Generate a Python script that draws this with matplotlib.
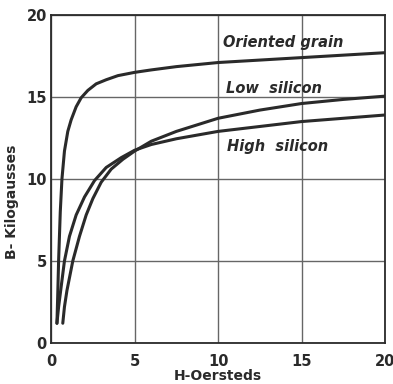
import matplotlib
matplotlib.use("Agg")
import matplotlib.pyplot as plt

# B-H magnetization curves
oriented_h = [0.35, 0.4, 0.45, 0.55, 0.65, 0.8, 1.0, 1.2, 1.5, 1.8, 2.2, 2.7, 3.3, 4.0, 5.0, 6.0, 7.5, 10.0, 12.5, 15.0, 17.5, 20.0]
oriented_b = [1.2, 3.0, 5.0, 8.0, 10.0, 11.7, 12.9, 13.6, 14.4, 14.95, 15.4, 15.8, 16.05, 16.3, 16.5, 16.65, 16.85, 17.1, 17.25, 17.4, 17.55, 17.7]

high_h = [0.35, 0.45, 0.55, 0.8, 1.1, 1.5, 2.0, 2.6, 3.3, 4.2, 5.0, 6.0, 7.5, 10.0, 12.5, 15.0, 17.5, 20.0]
high_b = [1.2, 2.2, 3.0, 5.0, 6.5, 7.8, 8.9, 9.9, 10.7, 11.3, 11.75, 12.1, 12.45, 12.9, 13.2, 13.5, 13.7, 13.9]

low_h = [0.7, 0.8, 0.95, 1.3, 1.7, 2.1, 2.5, 3.0, 3.6, 4.3, 5.0, 6.0, 7.5, 10.0, 12.5, 15.0, 17.5, 20.0]
low_b = [1.2, 2.2, 3.2, 5.0, 6.5, 7.8, 8.8, 9.8, 10.6, 11.2, 11.7, 12.3, 12.9, 13.7, 14.2, 14.6, 14.85, 15.05]

ticks = [0, 5, 10, 15, 20]
ink = "#2a2a2a"

fig = plt.figure(figsize=(3.93, 3.84), dpi=100)
ax = fig.add_axes([0.13, 0.107, 0.85, 0.854])

ax.plot(oriented_h, oriented_b, color=ink, lw=2.2, solid_capstyle="round")
ax.plot(high_h, high_b, color=ink, lw=2.2, solid_capstyle="round")
ax.plot(low_h, low_b, color=ink, lw=2.2, solid_capstyle="round")

ax.set_xlim(0, 20)
ax.set_ylim(0, 20)
ax.set_xticks(ticks)
ax.set_yticks(ticks)
ax.grid(True, color="#666666", lw=1.0)
ax.tick_params(length=0, labelsize=10.5, colors=ink)
ax.tick_params(axis="x", pad=8)
ax.tick_params(axis="y", pad=3)
for lab in ax.get_xticklabels() + ax.get_yticklabels():
    lab.set_fontweight("bold")
for s in ax.spines.values():
    s.set_color(ink)
    s.set_linewidth(1.3)

ax.set_xlabel("H-Oersteds", fontsize=10, fontweight="bold", color=ink, labelpad=0)
ax.set_ylabel("B- Kilogausses", fontsize=10, fontweight="bold", color=ink, labelpad=2)
ax.yaxis.set_label_coords(-0.095, 0.43)

lbl = dict(fontsize=10.5, style="italic", fontweight="bold", color=ink, va="center")
ax.text(10.3, 18.3, "Oriented grain", **lbl)
ax.text(10.45, 15.5, "Low  silicon", **lbl)
ax.text(10.55, 12.0, "High  silicon", **lbl)

fig.savefig("out.png", dpi=100)
